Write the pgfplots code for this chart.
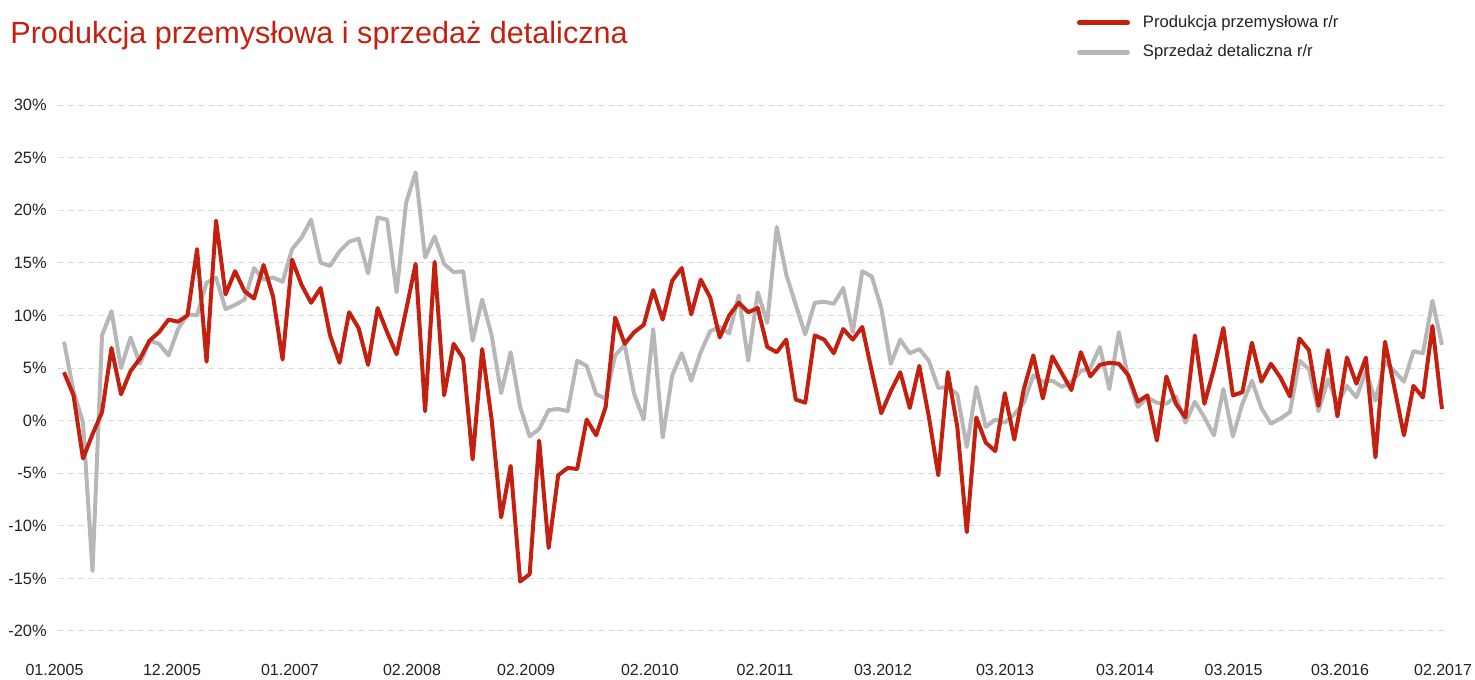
\documentclass[border=0pt]{standalone}
\usepackage{pgfplots}
\pgfplotsset{compat=1.18}
\usepackage{pgfplotstable}
\usepackage{fontspec}
\setmainfont{Liberation Sans}
\definecolor{pred}{RGB}{196,32,16}
\definecolor{pgray}{RGB}{183,183,183}
\definecolor{gridc}{RGB}{218,218,218}
\definecolor{zeroc}{RGB}{170,170,170}
\definecolor{labc}{RGB}{34,34,34}

\pgfplotstableread{
i prod sales
0 4.6 7.5
1 2.4 2.8
2 -3.6 -0.2
3 -1.3 -14.3
4 0.8 8.1
5 6.9 10.4
6 2.5 5.0
7 4.7 7.9
8 5.9 5.4
9 7.6 7.6
10 8.4 7.3
11 9.6 6.2
12 9.4 8.7
13 10.0 10.1
14 16.3 10.0
15 5.6 13.1
16 19.0 13.6
17 12.0 10.6
18 14.2 11.0
19 12.3 11.5
20 11.6 14.5
21 14.8 13.4
22 11.8 13.6
23 5.8 13.2
24 15.3 16.3
25 12.9 17.4
26 11.2 19.1
27 12.6 15.0
28 8.1 14.7
29 5.5 16.1
30 10.3 17.0
31 8.8 17.3
32 5.3 14.0
33 10.7 19.3
34 8.4 19.1
35 6.3 12.2
36 10.5 20.7
37 14.9 23.6
38 0.9 15.5
39 15.1 17.5
40 2.4 14.9
41 7.3 14.1
42 5.9 14.2
43 -3.7 7.6
44 6.8 11.5
45 0.1 8.1
46 -9.2 2.6
47 -4.3 6.5
48 -15.3 1.3
49 -14.6 -1.5
50 -1.9 -0.8
51 -12.1 1.0
52 -5.2 1.1
53 -4.5 0.9
54 -4.6 5.7
55 0.1 5.2
56 -1.4 2.5
57 1.3 2.1
58 9.8 6.2
59 7.3 7.2
60 8.4 2.5
61 9.1 0.1
62 12.4 8.7
63 9.6 -1.6
64 13.3 4.3
65 14.5 6.4
66 10.1 3.8
67 13.4 6.5
68 11.7 8.5
69 7.9 8.9
70 10.0 8.3
71 11.2 11.9
72 10.3 5.7
73 10.7 12.2
74 7.0 9.3
75 6.5 18.4
76 7.7 13.9
77 2.0 11.0
78 1.7 8.2
79 8.1 11.2
80 7.7 11.3
81 6.4 11.1
82 8.7 12.6
83 7.7 8.4
84 8.9 14.2
85 4.7 13.7
86 0.7 10.7
87 2.8 5.4
88 4.6 7.7
89 1.2 6.4
90 5.2 6.8
91 0.4 5.7
92 -5.2 3.1
93 4.6 3.2
94 -0.6 2.5
95 -10.6 -2.5
96 0.3 3.2
97 -2.1 -0.6
98 -2.9 0.1
99 2.6 -0.2
100 -1.8 0.6
101 3.0 1.7
102 6.2 4.3
103 2.1 3.7
104 6.1 3.8
105 4.5 3.2
106 2.9 3.7
107 6.5 4.7
108 4.2 5.0
109 5.3 7.0
110 5.5 3.0
111 5.4 8.4
112 4.3 4.0
113 1.8 1.3
114 2.4 2.2
115 -1.9 1.7
116 4.2 1.6
117 1.6 2.3
118 0.3 -0.2
119 8.1 1.8
120 1.6 0.3
121 4.9 -1.4
122 8.8 3.0
123 2.4 -1.5
124 2.7 1.6
125 7.4 3.8
126 3.7 1.2
127 5.4 -0.3
128 4.1 0.2
129 2.3 0.8
130 7.8 5.7
131 6.7 4.9
132 1.4 0.9
133 6.7 3.9
134 0.4 1.6
135 6.0 3.3
136 3.5 2.2
137 6.0 4.7
138 -3.5 1.9
139 7.5 5.6
140 3.1 4.7
141 -1.4 3.7
142 3.3 6.6
143 2.2 6.4
144 9.0 11.4
145 1.1 7.2
}\datatable

\begin{document}
\begin{tikzpicture}
\path[use as bounding box] (0,0) rectangle (737.5pt,339.5pt);
\begin{axis}[
  at={(29.15pt,24pt)}, anchor=south west,
  scale only axis, width=694.2pt, height=263pt,
  xmin=-0.6, xmax=145.5, ymin=-20, ymax=30,
  axis line style={draw=none},
  major tick length=0pt,
  ytick={-20,-15,...,30},
  ymajorgrids=true,
  major grid style={draw=gridc, line width=0.5pt, dash pattern=on 3pt off 2pt},
  extra y ticks={0},
  extra y tick labels={},
  extra y tick style={grid style={draw=zeroc, line width=0.5pt, solid}},
  /pgf/number format/assume math mode=true,
  yticklabel={\pgfmathprintnumber{\tick}\%},
  yticklabel style={font=\fontsize{8.2}{9.6}\selectfont, text=labc, anchor=east, inner sep=0pt, xshift=-5.65pt},
  xtick={-0.6,11.365,23.78,36.62,48.63,61.66,73.77,86.18,99.02,111.65,123.07,134.28,145.5},
  xticklabels={\hspace*{-3.8pt}01.2005,12.2005,01.2007,02.2008,02.2009,02.2010,02.2011,03.2012,03.2013,03.2014,03.2015,03.2016,02.2017\hspace*{3.7pt}},
  xticklabel style={font=\fontsize{8}{9.6}\selectfont, text=labc, anchor=base, inner sep=0pt, yshift=-22pt},
  title={Produkcja przemysłowa i sprzedaż detaliczna},
  title style={at={(-0.0348,1.095)}, anchor=base west, inner sep=0pt, font=\fontsize{15.3}{18}\selectfont, text=pred},
  legend style={at={(0.7337,1.1706)}, anchor=north west, draw=none, fill=none, inner sep=0pt, outer sep=0pt,
    font=\fontsize{8.3}{10}\selectfont, text=labc, row sep=7.25pt, column sep=6.5pt,
    nodes={inner sep=0pt}, cells={anchor=west}},
  legend image code/.code={\draw[#1, line width=2.5pt, line cap=round] (1.25pt,0pt) -- (25.25pt,0pt);},
  reverse legend,
]
\addplot[pgray, line width=2pt, line join=round] table[x=i, y=sales]{\datatable};
\addlegendentry{Sprzedaż detaliczna r/r}
\addplot[pred, line width=2pt, line join=round] table[x=i, y=prod]{\datatable};
\addlegendentry{Produkcja przemysłowa r/r}
\end{axis}
\end{tikzpicture}
\end{document}
